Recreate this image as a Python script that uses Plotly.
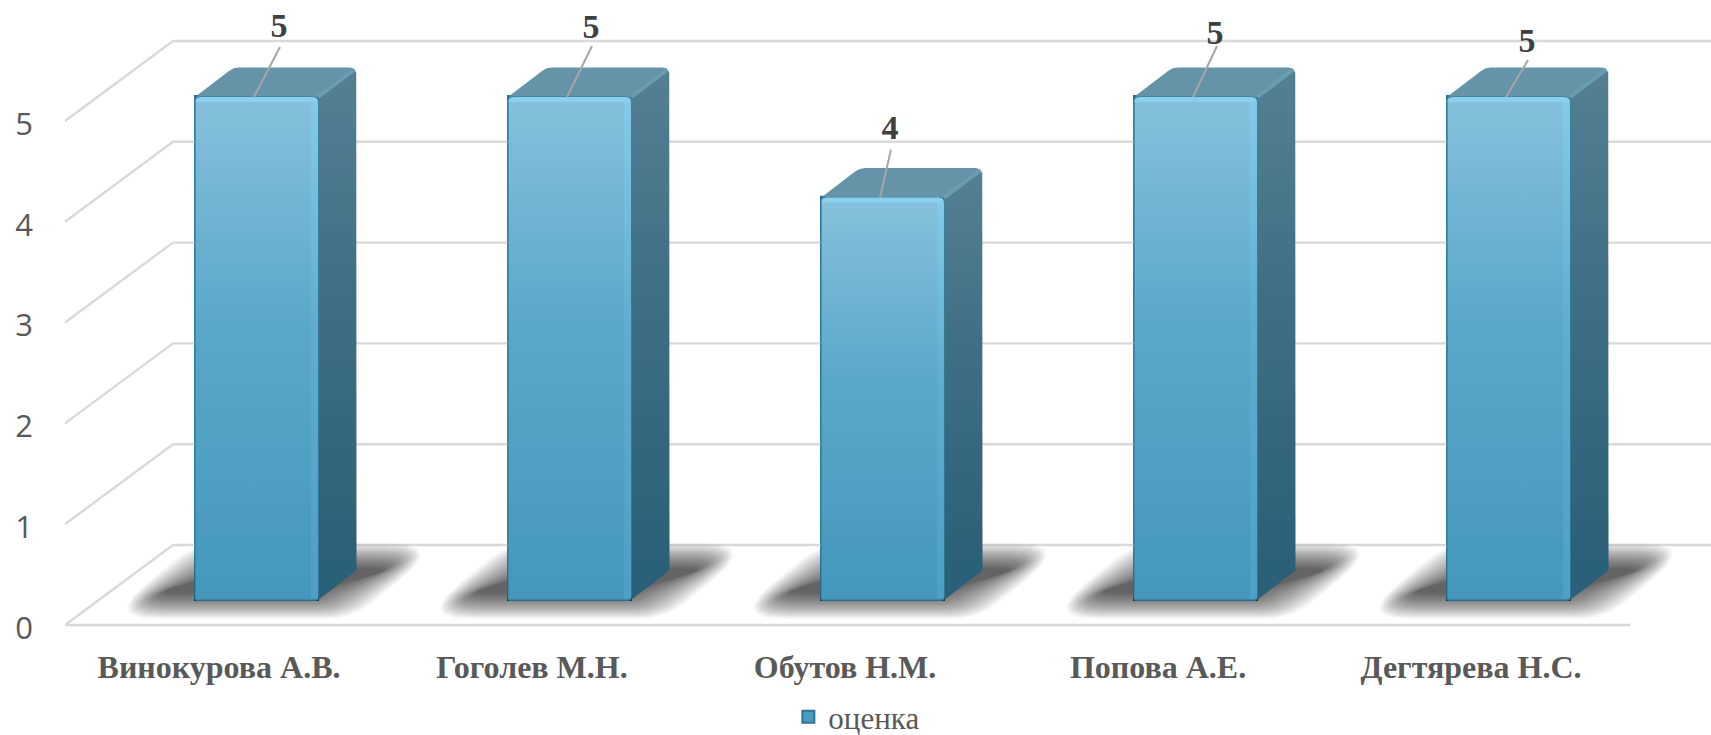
import numpy as np
import plotly.graph_objects as go

# ---- data ----
categories = ["Винокурова А.В.", "Гоголев М.Н.", "Обутов Н.М.", "Попова А.Е.", "Дегтярева Н.С."]
scores = [5, 5, 4, 5, 5]
y_ticks = [0, 1, 2, 3, 4, 5]
series_name = "оценка"

# ---- geometry (pixels per axis unit, and pseudo-3D offsets) ----
W, H = 1711, 735
PLOT_L, FLOOR_Y = 65, 625
PAD_B = 8
PX_X, PX_Y = 313.0, 100.8
XMIN = -0.5
XMAX = XMIN + (W - PLOT_L) / PX_X
YMAX = FLOOR_Y / PX_Y
def dx(p): return p / PX_X
def dy(p): return p / PX_Y
WALL_DX, WALL_DY = dx(108), dy(80)
BAR_BASE, BAR_W = dy(25), dx(123)
SIDE_DX, SIDE_DY = dx(38.5), dy(29.5)
# leader line ends and label centres relative to the bar's top-left + 59 px
LEADER_END = [(26, -50), (25, -51), (11, -48), (24, -51), (22, -37)]
LABEL_POS = [(25, -69), (24, -68), (10, -67), (22, -62), (21, -54)]

GRID = "#d9d9d9"
TXT = "#595959"


def round_poly(pts, radii, n=6):
    """Round polygon corners; radii in pixels, pts in axis units."""
    P = np.array([[x * PX_X, y * PX_Y] for x, y in pts], float)
    out = []
    m = len(P)
    for i in range(m):
        r = radii[i]
        if r <= 0:
            out.append(P[i])
            continue
        a, b, c = P[i - 1], P[i], P[(i + 1) % m]
        p0 = b + (a - b) / np.linalg.norm(a - b) * r
        p2 = b + (c - b) / np.linalg.norm(c - b) * r
        for t in np.linspace(0, 1, n):
            out.append((1 - t) ** 2 * p0 + 2 * t * (1 - t) * b + t ** 2 * p2)
    out.append(out[0])
    out = np.array(out)
    return list(out[:, 0] / PX_X), list(out[:, 1] / PX_Y)


def grad(c0, c1, y0, y1, mid=None):
    scale = [[0, c0], [1, c1]] if mid is None else [[0, c0], [0.55, mid], [1, c1]]
    return dict(type="vertical", colorscale=scale, start=y0, stop=y1)


fig = go.Figure()
xpos = list(range(len(categories)))
bar_left = [i - 0.5 + dx(130) for i in xpos]
bar_mid = [b + BAR_W / 2 for b in bar_left]

# base bars: the series itself, also gives the legend entry
fig.add_trace(go.Bar(
    x=bar_mid, y=scores, base=BAR_BASE, width=BAR_W, name=series_name,
    marker=dict(color="#4a9cbf", line=dict(color="#2f7391", width=2)),
    showlegend=True, hoverinfo="skip"))

# wall grid lines and diagonals
gx, gy = [], []
for t in y_ticks:
    gx += [XMIN, XMIN + WALL_DX, XMAX, None]
    gy += [t, t + WALL_DY, t + WALL_DY, None]
fig.add_trace(go.Scatter(x=gx, y=gy, mode="lines", line=dict(color=GRID, width=2.4),
                         showlegend=False, hoverinfo="skip", cliponaxis=False))
fig.add_trace(go.Scatter(x=[XMIN, XMIN + len(categories)], y=[0, 0], mode="lines",
                         line=dict(color=GRID, width=2.4), showlegend=False,
                         hoverinfo="skip", cliponaxis=False))

# blurred floor shadow
N = 30
alpha = 1 - (1 - 0.57) ** (1 / N)
for k in range(N):
    u = 1 - 2 * k / (N - 1)
    gv, gh = 13 * u, 24 * u  # vertical and horizontal spread of the blur, pixels
    sx, sy = [], []
    for b in bar_left:
        bpx = [(-68 - gh, 606 + gv), (134 + gh, 606 + gv), (226 + gh, 556 - gv), (24 - gh, 556 - gv)]
        pts = [(b + dx(px), (FLOOR_Y - py) / PX_Y) for px, py in bpx]
        xs, ys = round_poly(pts, [42 + gv, 14 + gv, 42 + gv, 14 + gv], n=6)
        sx += xs + [None]
        sy += ys + [None]
    fig.add_trace(go.Scatter(x=sx, y=sy, mode="lines", fill="toself", fillcolor=f"rgba(0,0,0,{alpha:.4f})",
                             line=dict(width=0), showlegend=False, hoverinfo="skip"))

# 3-D faces
for b, v in zip(bar_left, scores):
    r = b + BAR_W
    top = BAR_BASE + v * (100.6 / PX_Y)
    base = BAR_BASE
    # side face
    xs, ys = round_poly([(r, base), (r + SIDE_DX, base + SIDE_DY), (r + SIDE_DX, top + SIDE_DY), (r, top)],
                        [3, 0, 8, 0])
    fig.add_trace(go.Scatter(x=xs, y=ys, mode="lines", fill="toself",
                             fillgradient=grad("#2a6078", "#558094", base + SIDE_DY, top + SIDE_DY, "#3f6f85"),
                             line=dict(width=0), showlegend=False, hoverinfo="skip"))
    # top face
    xs, ys = round_poly([(b, top), (r, top), (r + SIDE_DX, top + SIDE_DY), (b + SIDE_DX, top + SIDE_DY)],
                        [4, 0, 8, 6])
    fig.add_trace(go.Scatter(x=xs, y=ys, mode="lines", fill="toself", fillcolor="#6594a8",
                             line=dict(width=0), showlegend=False, hoverinfo="skip"))
    # highlight on the edge between top and side
    fig.add_trace(go.Scatter(x=[r, r + SIDE_DX - dx(2)], y=[top, top + SIDE_DY - dy(2)], mode="lines",
                             line=dict(color="#699db2", width=4), showlegend=False, hoverinfo="skip"))
    # front face
    xs, ys = round_poly([(b, base), (r, base), (r, top), (b, top)], [2, 3, 6, 6])
    fig.add_trace(go.Scatter(x=xs, y=ys, mode="lines", fill="toself",
                             fillgradient=grad("#4497bb", "#86c1dc", base, top, "#5aa8c9"),
                             line=dict(color="#37819f", width=1.4), showlegend=False, hoverinfo="skip"))
    # bevel: right stripe, top stripe
    xs, ys = round_poly([(r - dx(7), base + dy(1)), (r, base + dy(1)), (r, top), (r - dx(7), top)], [0, 2, 6, 0])
    fig.add_trace(go.Scatter(x=xs, y=ys, mode="lines", fill="toself",
                             fillgradient=grad("#4c9fc5", "#84cbe8", base, top, "#5faecf"),
                             line=dict(width=0), showlegend=False, hoverinfo="skip"))
    xs, ys = round_poly([(b, top - dy(5)), (r, top - dy(5)), (r, top), (b, top)], [0, 0, 6, 6])
    fig.add_trace(go.Scatter(x=xs, y=ys, mode="lines", fill="toself", fillcolor="#8ccfec",
                             line=dict(width=0), showlegend=False, hoverinfo="skip"))

# data label leader lines
lx, ly = [], []
tx, ty, tt = [], [], []
for b, v, e, p in zip(bar_left, scores, LEADER_END, LABEL_POS):
    top = BAR_BASE + v * (100.6 / PX_Y)
    sx = b + dx(59)
    lx += [sx, sx + dx(e[0]), None]
    ly += [top, top - dy(e[1]), None]
    tx.append(sx + dx(p[0]))
    ty.append(top - dy(p[1]))
    tt.append(str(v))
fig.add_trace(go.Scatter(x=lx, y=ly, mode="lines", line=dict(color="#a6a6a6", width=2),
                         showlegend=False, hoverinfo="skip"))
fig.add_trace(go.Scatter(x=tx, y=ty, mode="text", text=tt, textposition="middle center",
                         textfont=dict(family="Liberation Serif", size=34, color="#404040", weight=700),
                         showlegend=False, hoverinfo="skip", cliponaxis=False))

fig.update_layout(
    width=W, height=H, autosize=False,
    margin=dict(l=PLOT_L, r=0, t=0, b=H - FLOOR_Y - PAD_B, pad=0),
    paper_bgcolor="white", plot_bgcolor="white",
    barmode="overlay",
    hovermode=False,
    legend=dict(orientation="h", xref="container", yref="container",
                x=0.5008, xanchor="center", y=0.0245, yanchor="middle",
                font=dict(family="Liberation Serif", size=31, color=TXT),
                bgcolor="rgba(0,0,0,0)", itemwidth=30, traceorder="normal"),
    xaxis=dict(range=[XMIN, XMAX], tickmode="array", tickvals=[i - dx(2.5) for i in xpos], ticktext=categories,
               showgrid=False, zeroline=False, showline=False, ticks="", ticklabelstandoff=12,
               automargin=False,
               tickfont=dict(family="Liberation Serif", size=32, color=TXT, weight=700)),
    yaxis=dict(range=[-dy(PAD_B), YMAX], tickmode="array", tickvals=[t - dy(3) for t in y_ticks],
               ticktext=[str(t) for t in y_ticks],
               showgrid=False, zeroline=False, showline=False, ticks="", ticklabelstandoff=31,
               automargin=False,
               tickfont=dict(family="Open Sans", size=31, color=TXT)),
)

fig.write_html("out.html", config={"displayModeBar": False},
               post_script="document.body.style.margin='0';window.dispatchEvent(new Event('resize'));")
